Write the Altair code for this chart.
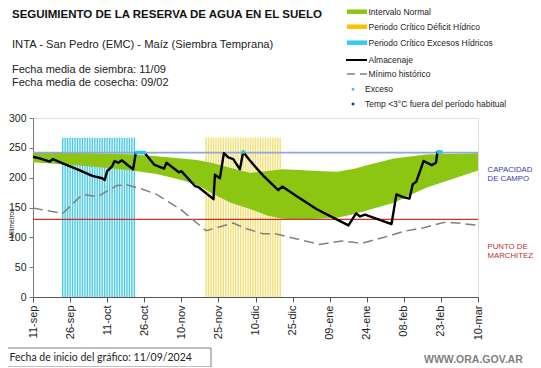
import altair as alt
import pandas as pd

# ---------------- data ----------------
x_ticks = [0, 15, 30, 45, 60, 75, 90, 105, 120, 135, 150, 165, 180]
x_labels = ["11-sep", "26-sep", "11-oct", "26-oct", "10-nov", "25-nov", "10-dic",
            "25-dic", "09-ene", "24-ene", "08-feb", "23-feb", "10-mar"]
y_ticks = [0, 50, 100, 150, 200, 250, 300]

# Almacenaje (days since 11/09/2024, mm)
alm_day = [0, 3, 6.8, 8, 12, 18, 24, 28, 29, 30, 32, 33, 34.5, 36, 38, 40.5, 41.6, 45,
           49, 52, 53, 54, 59, 60, 65.5, 67, 73, 73.6, 75.6, 77.2, 79, 81, 83.7, 85,
           87.5, 90, 93.2, 99.2, 100.8, 106.7, 114.8, 122.8, 127.6, 130.7, 132.3, 134.3,
           145, 147, 150, 152.3, 153.6, 155, 158, 161.3, 163, 163.6, 165]
alm_val = [235, 232, 227, 231, 224, 214, 203, 199, 196, 211, 219, 228, 225, 229, 222, 214, 242, 242,
           222, 217, 215, 225, 209, 211, 186, 184, 164, 205, 199, 241, 234, 231, 214, 243,
           230, 218, 203, 179, 185, 169, 147, 130, 120, 140, 135, 138,
           122, 172, 167, 165, 189, 193, 228, 221, 225, 243, 243]

# Intervalo normal (upper / lower)
band_day = [0, 10, 20, 30, 40, 50, 60, 67, 73, 80, 88, 95, 101, 108, 115, 123, 130, 135,
            146, 159, 170, 180]
band_hi = [243, 242, 241, 240, 239, 236, 232, 229, 224, 216, 208, 211, 214, 213, 211, 210, 215, 221,
           232, 239, 240, 241]
band_lo = [226, 223, 220, 216, 212, 206, 196, 187, 172, 158, 147, 136, 131, 130, 131, 133, 139, 145,
           158, 183, 198, 212]

# Mínimo histórico
min_day = [0, 12, 20, 26, 34, 38, 44, 50, 60, 70, 76, 81, 86, 93, 98, 108, 116, 125, 133,
           142, 150, 158, 166, 172, 180]
min_val = [149, 140, 172, 168, 187, 188, 181, 172, 146, 111, 118, 124, 115, 106, 106, 96, 88, 94, 90,
           100, 110, 116, 125, 124, 120]

# Exceso points
exc_day = [42, 43, 44, 45, 85, 164, 165]
exc_val = [242, 242, 242, 242, 243, 243, 243]

# Critical periods (day start, day end) and top of hatch
exceso_period = (12, 41)
deficit_period = (70, 100)
hatch_top = 267

capacidad = 242
marchitez = 130

# ---------------- styles ----------------
FONT = "Liberation Sans"
GREEN = "#8CC612"

xs = alt.Scale(domain=[0, 180], nice=False)
ys = alt.Scale(domain=[0, 300], nice=False)

label_expr = "[" + ",".join("'%s'" % s for s in x_labels) + "][round(datum.value/15)]"

XAX = alt.Axis(values=x_ticks, labelExpr=label_expr, labelAngle=270, title=None,
               labelFontSize=11, labelFont=FONT, labelColor="#222", grid=False,
               labelOverlap=False, labelBound=False, labelFlush=False,
               domainColor="#555", tickColor="#555", tickSize=5, labelPadding=3)
YAX = alt.Axis(values=y_ticks, title="Milímetros", titleFontSize=6.5, titleFont=FONT,
               titleFontWeight="normal", titleColor="#222", titleX=-19, titleY=105,
               labelFontSize=10.5, labelFont=FONT, labelColor="#222", grid=False,
               labelOverlap=False,
               domainColor="#777", tickColor="#777", tickSize=4, labelPadding=3)


def X(f):
    return alt.X(f, scale=xs, axis=XAX)


def Y(f):
    return alt.Y(f, scale=ys, axis=YAX)


def hatch_layers(period, bg, line):
    days = list(range(period[0], period[1] + 1))
    lines_df = pd.DataFrame({"day": days, "top": [hatch_top] * len(days), "zero": [0] * len(days)})
    bg_df = pd.DataFrame({"start": [period[0] - 0.5], "end": [period[1] + 0.5], "top": [hatch_top], "zero": [0]})
    r = alt.Chart(bg_df).mark_rect(color=bg).encode(
        x=X("start:Q"), x2="end:Q", y=Y("top:Q"), y2="zero:Q")
    l = alt.Chart(lines_df).mark_rule(stroke=line, strokeWidth=1.3).encode(
        x=X("day:Q"), y=Y("top:Q"), y2="zero:Q")
    return [r, l]


hatches = hatch_layers(exceso_period, "#E2F6FA", "#4CCAE3") + hatch_layers(deficit_period, "#FFFBE3", "#EFDF7E")

band_df = pd.DataFrame({"day": band_day, "hi": band_hi, "lo": band_lo})
band = alt.Chart(band_df).mark_area(color=GREEN, opacity=1).encode(
    x=X("day:Q"), y=Y("hi:Q"), y2="lo:Q")

ref_df = pd.DataFrame({"v": [capacidad, marchitez], "a": [0, 0], "b": [180, 180],
                       "kind": ["cap", "marc"]})
cap = alt.Chart(ref_df[ref_df.kind == "cap"]).mark_rule(stroke="#8FA8D8", strokeWidth=1.6).encode(
    y=Y("v:Q"), x=X("a:Q"), x2="b:Q")
marc = alt.Chart(ref_df[ref_df.kind == "marc"]).mark_rule(stroke="#CC3333", strokeWidth=1.2).encode(
    y=Y("v:Q"), x=X("a:Q"), x2="b:Q")

minl = alt.Chart(pd.DataFrame({"day": min_day, "v": min_val})).mark_line(
    color="#808080", strokeWidth=1.5, strokeDash=[10, 5]).encode(x=X("day:Q"), y=Y("v:Q"))

alm = alt.Chart(pd.DataFrame({"day": alm_day, "v": alm_val})).mark_line(
    color="#000000", strokeWidth=2.4, strokeJoin="round").encode(x=X("day:Q"), y=Y("v:Q"))

exc = alt.Chart(pd.DataFrame({"day": exc_day, "v": exc_val})).mark_point(
    shape="square", filled=True, size=12, color="#2FC3E8", opacity=1).encode(x=X("day:Q"), y=Y("v:Q"))


# ---------------- texts ----------------
def txt(t, x, y, size, color="#111", weight="normal", font=FONT, align="left"):
    return alt.Chart(pd.DataFrame({"t": [t]})).mark_text(
        align=align, baseline="middle", fontSize=size, font=font, fontWeight=weight, color=color
    ).encode(x=alt.value(x), y=alt.value(y), text="t:N")


texts = [
    txt("SEGUIMIENTO DE LA RESERVA DE AGUA  EN EL SUELO", -21, -103, 11.5, weight="bold"),
    txt("INTA - San Pedro (EMC) - Maíz  (Siembra Temprana)", -21, -73, 11.2, color="#222"),
    txt("Fecha media de siembra: 11/09", -21, -48, 11, color="#222"),
    txt("Fecha media de cosecha: 09/02", -21, -35, 11, color="#222"),
    txt("CAPACIDAD", 454.5, 52, 7.8, color="#3A3AA8"),
    txt("DE  CAMPO", 454.5, 61, 7.8, color="#3A3AA8"),
    txt("PUNTO  DE", 454.5, 129, 7.8, color="#B83232"),
    txt("MARCHITEZ", 454.5, 137.5, 7.8, color="#B83232"),
    txt("WWW.ORA.GOV.AR", 391, 242, 10.5, color="#7F7F7F", weight="bold"),
    txt("Fecha de inicio del gráfico:  11/09/2024", -23.5, 240, 10.5, color="#222", font="Lato"),
]

box = alt.Chart(pd.DataFrame({"a": [0]})).mark_rect(fill="white", stroke="#8A7878", strokeWidth=1).encode(
    x=alt.value(-29), x2=alt.value(178), y=alt.value(230), y2=alt.value(249))

# ---------------- manual legend ----------------
leg_names = ["Intervalo Normal", "Periodo Crítico Déficit Hídrico", "Periodo Crítico Excesos Hídricos",
             "Almacenaje", "Mínimo histórico", "Exceso", "Temp <3°C fuera del período habitual"]
leg_y = [-106.3, -91.3, -75.3, -58, -44, -28.7, -14]
leg_layers = []
bar_cols = [GREEN, "#FFC000", "#33CCF5"]
for i in range(3):
    leg_layers.append(alt.Chart(pd.DataFrame({"a": [0]})).mark_rule(stroke=bar_cols[i], strokeWidth=4.5).encode(
        x=alt.value(314), x2=alt.value(334), y=alt.value(leg_y[i]), y2=alt.value(leg_y[i])))
leg_layers.append(alt.Chart(pd.DataFrame({"a": [0]})).mark_rule(stroke="#000", strokeWidth=2).encode(
    x=alt.value(313), x2=alt.value(334), y=alt.value(leg_y[3]), y2=alt.value(leg_y[3])))
leg_layers.append(alt.Chart(pd.DataFrame({"a": [0]})).mark_rule(stroke="#808080", strokeWidth=1.5, strokeDash=[8, 5]).encode(
    x=alt.value(314), x2=alt.value(334), y=alt.value(leg_y[4]), y2=alt.value(leg_y[4])))
leg_layers.append(alt.Chart(pd.DataFrame({"a": [0]})).mark_point(shape="square", filled=True, size=6, color="#2FC3E8", opacity=1).encode(
    x=alt.value(320), y=alt.value(leg_y[5])))
leg_layers.append(alt.Chart(pd.DataFrame({"a": [0]})).mark_point(shape="diamond", filled=True, size=14, color="#1F2FA0", opacity=1).encode(
    x=alt.value(320), y=alt.value(leg_y[6])))
for i, n in enumerate(leg_names):
    xx = 335.5 if i < 5 else 332
    leg_layers.append(txt(n, xx, leg_y[i], 8.5, color="#222"))

chart = alt.layer(
    *hatches, band, cap, marc, minl, alm, exc, box, *texts, *leg_layers
).properties(
    width=445, height=179,
    autosize=alt.AutoSizeParams(type="none"),
    padding={"left": 25, "top": 110, "right": 55, "bottom": 70},
).configure_view(stroke=None).configure(background="white")

chart.save("out.html", embed_options={"renderer": "svg", "actions": False})
